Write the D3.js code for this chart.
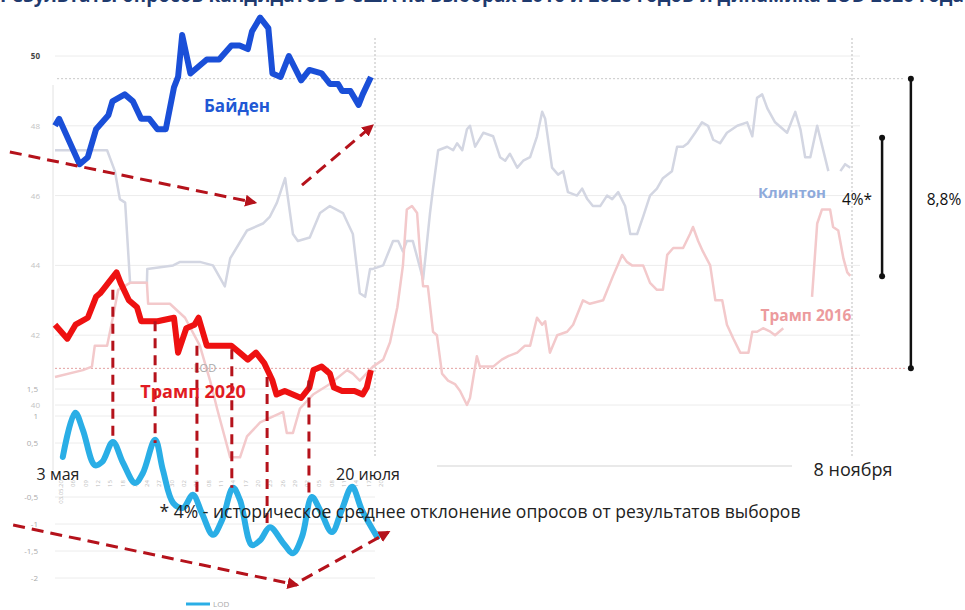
<!DOCTYPE html>
<html>
<head>
<meta charset="utf-8">
<script src="https://cdn.jsdelivr.net/npm/d3@7"></script>
<style>
  body { margin: 0; background: #fff; }
  svg { display: block; font-family: "Open Sans", "Noto Sans", sans-serif; }
</style>
</head>
<body>
<svg id="chart"></svg>
<script>
/*
Опросы США 2016 / 2020 и динамика LOD
дни считаются от 3 мая
*/
var width = 965, height = 610;

// Байден 2020
const bidenDays = [0,1,6,8,10,13,14,17,19,21,23,25,27,29,30,31,33,35,37,40,43,45,47,48,50,52,53,55,57,60,62,65,67,69,70,72,74,75,77];
const bidenVals = [48.0,48.2,46.9,47.1,47.9,48.3,48.7,48.9,48.7,48.2,48.2,47.9,47.9,49.1,49.4,50.6,49.5,49.7,49.9,49.9,50.3,50.3,50.2,50.7,51.1,50.8,49.5,49.4,50.0,49.3,49.6,49.5,49.2,49.2,49.0,49.0,48.6,48.9,49.4];

// Трамп 2020
const trump20Days = [0,3,5,8,10,11,13,15,16,18,20,21,25,29,30,32,34,35,37,43,45,47,49,51,53,54,56,58,60,62,63,65,67,68,70,73,75,76,77];
const trump20Vals = [42.3,41.9,42.3,42.5,43.1,43.2,43.5,43.8,43.5,43.0,42.8,42.4,42.4,42.5,41.5,42.2,42.3,42.5,41.7,41.7,41.5,41.3,41.5,41.2,40.7,40.3,40.4,40.3,40.2,40.5,41.0,41.1,40.9,40.5,40.4,40.4,40.3,40.5,41.0];

// Клинтон 2016 (null = разрыв)
const clintonDays = [0,12.7,14.6,15.8,17.1,18.3,22.4,22.5,28.8,30.5,35.3,38.5,41.4,42.7,46.8,50.7,52.4,54.1,56.1,58,59.2,62.1,64.6,67,70.2,72.6,74.3,75.6,76.8,77.5,79.9,82.2,83.4,84.5,85.4,86.8,89.2,90.8,91.5,92.7,94.8,96.2,97.1,98.3,99.4,100.1,101.3,103.2,105.5,107.1,108.3,109.4,111.1,112.5,114.1,115.7,116.9,117.6,119.2,120.6,121.8,122.9,125,126.2,127.4,128.7,130.4,132,133.2,134.6,136.2,137.4,139,140.4,142,143.6,145,147.1,148.3,149.7,150.8,152.5,154.1,155.5,156.7,158.3,159.9,162.3,164.6,165.8,166.9,168.1,169.3,171.1,173.9,175.8,177,178.1,179.3,180.9,183.5,185,186.3,187.4,188.6];
const clintonVals = [47.3,47.3,46.7,45.9,45.8,43.5,43.5,43.9,44.0,44.1,44.1,44.0,43.4,44.2,45.0,45.2,45.4,45.8,46.5,44.9,44.7,44.8,45.5,45.7,45.5,44.9,43.2,43.1,43.9,43.9,44.0,44.7,44.7,44.4,44.7,44.7,43.6,45.5,46.2,47.3,47.4,47.3,47.5,47.3,47.9,48.0,47.4,47.8,47.7,47.1,47.0,47.2,46.8,47.0,47.1,47.7,48.4,48.2,46.8,46.6,46.7,46.1,46.0,46.2,45.9,45.7,45.7,46.0,45.9,46.1,45.7,44.9,44.9,45.4,46.0,46.2,46.5,46.7,47.4,47.4,47.5,47.8,48.1,48.0,47.6,47.5,47.8,48.0,48.1,47.7,48.8,48.9,48.5,48.1,47.8,48.4,47.9,47.1,47.1,48.0,46.7,null,46.7,46.9,46.8];

// Трамп 2016 (null = разрыв)
const trump16Days = [0,6.8,9,9.7,12.7,14.1,15.4,18.3,22.4,22.7,28,31.7,35.3,37.8,39.5,42.7,45.1,46.8,50,55.6,56.5,58,59.7,62.9,67,71.2,72.6,74.3,77.5,79.9,81.5,83.2,84.5,85.4,86.6,87.8,88.5,89.2,90.3,91.5,92.4,93.6,95,96.6,97.8,99.4,100.1,101.7,102.4,103.6,105.5,107.5,109,111.1,112.9,114.1,115.7,116.9,117.6,118.7,120.4,122.7,124.1,126.4,128,131.1,133.4,135.5,136.6,137.8,140.4,142,143.6,145,146,147.4,149.7,151.3,152,153.2,154.3,156,157.2,158.8,159.9,161.4,163,164.9,165.8,166.9,168.3,170,171.1,173,174,179.7,180.9,182,183.9,184.6,185.8,187,187.9,188.6];
const trump16Vals = [40.8,41.0,41.1,41.7,41.7,42.5,43.3,43.5,43.5,42.9,42.9,42.5,41.7,40.7,39.9,38.5,38.5,39.1,39.5,39.8,39.2,39.2,39.9,40.3,40.6,41.0,40.9,40.7,41.1,41.3,41.8,42.8,44.0,45.6,45.7,45.5,44.3,43.4,43.4,42.1,42.0,40.9,40.7,40.6,40.4,40.0,40.2,41.4,41.1,41.1,41.1,41.3,41.4,41.5,41.7,41.7,42.5,42.3,42.4,41.5,42.0,42.1,42.3,43.0,42.9,43.0,43.7,44.3,44.1,44.0,44.0,43.5,43.3,43.3,44.3,44.5,44.5,44.9,45.1,44.7,44.4,44.0,43.0,43.0,42.3,41.9,41.5,41.5,42.1,42.1,42.2,42.1,42.0,42.2,null,43.1,45.2,45.6,45.6,45.1,45.0,44.2,43.8,43.7];

// LOD
const lodDays = [1.9,4.9,6.8,9.7,11.5,14.1,16.6,19.5,21.4,24.4,26.3,28.8,31.2,33.6,35.8,38.5,40.7,43.4,45.1,48,50,52.4,55.6,58,60.2,62.6,64.6,67.5,69.9,72.4,74.8,78.5];
const lodVals = [0.24,1.06,0.74,0.09,0.15,0.52,0.13,-0.24,-0.06,0.56,0,-0.61,-0.7,-0.46,-0.8,-1.2,-0.93,-0.33,-0.56,-1.39,-1.3,-1.06,-1.35,-1.54,-1.24,-0.5,-0.74,-1.15,-0.74,-0.31,-0.74,-1.24];

// связи Трамп 2020 -> LOD
const linkDays = [14.1,24.4,34.6,43.1,51.7,61.9];
const linkTop = [43.3,42.4,41.7,41.6,40.8,40.7];
const linkBottom = [0.56,0.5,-0.5,-0.33,-1.11,-0.5];

const pollTicks = [50,48,46,44,42,40];
const lodTicks = [1.5,1,0.5,-0.5,-1,-1.5,-2];
const lodTickLabels = ["1,5","1","0,5","-0,5","-1","-1,5","-2"];
const lodDateDays = [0,3,6,9,12,15,18,21,24,27,30,33,36,39,42,45,48,51,54,57,60,63,66,69,72,75,78];
const lodDateLabels = ["03.05.20","06","09","12","15","18","21","24","27","30","02","05","08","11","14","17","20","23","26","29","02","05","08","11","14","17","20"];

const svg = d3.select("#chart").attr("width", width).attr("height", height);

const x = d3.scaleLinear().domain([0, 78, 189]).range([55, 375, 852]);
const y = d3.scaleLinear().domain([40, 50]).range([405, 56]);
const yL = d3.scaleLinear().domain([-2, 1.5]).range([578, 389]);

// заголовок (обрезан сверху, как на слайде)
svg.append("text")
  .attr("x", 482).attr("y", 2)
  .attr("text-anchor", "middle")
  .attr("font-size", 19).attr("font-weight", "bold").attr("fill", "#1f3a6e")
  .text("Результаты опросов кандидатов в США на выборах 2016 и 2020 годов и динамика LOD 2020 года");

// сетка опросов
svg.selectAll(".grid").data(pollTicks).enter().append("line")
  .attr("x1", 55).attr("x2", 860)
  .attr("y1", d => y(d)).attr("y2", d => y(d))
  .attr("stroke", "#ececec").attr("stroke-width", 1);

svg.selectAll(".ptick").data(pollTicks).enter().append("text")
  .attr("x", 40).attr("y", d => y(d) + 3)
  .attr("text-anchor", "end").attr("font-size", 8)
  .attr("font-weight", d => d == 50 ? "bold" : "normal")
  .attr("fill", d => d == 50 ? "#444" : "#c4c4c4")
  .text(d => d);

// сетка LOD
svg.selectAll(".lgrid").data(lodTicks).enter().append("line")
  .attr("x1", 55).attr("x2", 375)
  .attr("y1", d => yL(d)).attr("y2", d => yL(d))
  .attr("stroke", "#ececec");

svg.selectAll(".ltick").data(lodTicks).enter().append("text")
  .attr("x", 38).attr("y", d => yL(d) + 3)
  .attr("text-anchor", "end").attr("font-size", 8).attr("fill", "#aaa")
  .text((d, i) => lodTickLabels[i]);

// оси
svg.append("line").attr("x1", 53).attr("x2", 53).attr("y1", 85).attr("y2", 470)
  .attr("stroke", "#e2e2e2");
svg.append("line").attr("x1", 437).attr("x2", 792).attr("y1", 466).attr("y2", 466)
  .attr("stroke", "#e2e2e2").attr("stroke-width", 1.5);

[78, 189].forEach(d => {
  svg.append("line").attr("x1", x(d)).attr("x2", x(d)).attr("y1", 38).attr("y2", 458)
    .attr("stroke", "#bdbdbd").attr("stroke-dasharray", "2,2");
});

// пунктирные уровни
const levelTop = 49.35, levelBottom = 41.05;
svg.append("line").attr("x1", x(0.5)).attr("x2", 905).attr("y1", y(levelTop)).attr("y2", y(levelTop))
  .attr("stroke", "#c8c8c8").attr("stroke-dasharray", "2,2");
svg.append("line").attr("x1", x(0)).attr("x2", 905).attr("y1", y(levelBottom)).attr("y2", y(levelBottom))
  .attr("stroke", "#e3a0a0").attr("stroke-dasharray", "2,2");

// подписи дат LOD
svg.selectAll(".ldate").data(lodDateDays).enter().append("text")
  .attr("transform", d => `translate(${x(d) + 8},${480}) rotate(-90)`)
  .attr("text-anchor", "end").attr("font-size", 6).attr("fill", "#bbb")
  .text((d, i) => lodDateLabels[i]);

const line = (days, vals, ys, curve) => d3.line()
  .defined((d, i) => vals[i] != null)
  .x((d, i) => x(days[i]))
  .y((d, i) => ys(vals[i]))
  .curve(curve || d3.curveLinear)(days);

// 2016
svg.append("path").attr("d", line(clintonDays, clintonVals, y))
  .attr("fill", "none").attr("stroke", "#d3d6e2").attr("stroke-width", 2.5).attr("stroke-linejoin", "round");
svg.append("path").attr("d", line(trump16Days, trump16Vals, y))
  .attr("fill", "none").attr("stroke", "#f3c9cb").attr("stroke-width", 2.5).attr("stroke-linejoin", "round");

// 2020
svg.append("path").attr("d", line(bidenDays, bidenVals, y))
  .attr("fill", "none").attr("stroke", "#1a4fd8").attr("stroke-width", 6).attr("stroke-linejoin", "round");
svg.append("path").attr("d", line(trump20Days, trump20Vals, y))
  .attr("fill", "none").attr("stroke", "#ee1111").attr("stroke-width", 6).attr("stroke-linejoin", "round");

// LOD
svg.append("path").attr("d", line(lodDays, lodVals, yL, d3.curveCatmullRom))
  .attr("fill", "none").attr("stroke", "#2aaee6").attr("stroke-width", 6).attr("stroke-linecap", "round");

svg.append("text").attr("x", 205).attr("y", 372).attr("text-anchor", "middle")
  .attr("font-size", 11).attr("fill", "#aaa").text("LOD");

// связи
svg.selectAll(".link").data(linkDays).enter().append("line")
  .attr("x1", d => x(d)).attr("x2", d => x(d))
  .attr("y1", (d, i) => y(linkTop[i])).attr("y2", (d, i) => yL(linkBottom[i]))
  .attr("stroke", "#b5121b").attr("stroke-width", 3).attr("stroke-dasharray", "10,7");

// стрелки трендов
svg.append("defs").append("marker")
  .attr("id", "arr").attr("viewBox", "0 0 10 10").attr("refX", 8).attr("refY", 5)
  .attr("markerWidth", 4).attr("markerHeight", 4).attr("orient", "auto")
  .append("path").attr("d", "M0,0L10,5L0,10z").attr("fill", "#b5121b");

const arrows = [
  [x(-11), y(47.25), x(48.7), y(45.8)],
  [x(60.2), y(46.3), x(77.3), y(48.0)],
  [x(-10.2), yL(-1.02), x(59), yL(-2.13)],
  [x(60.2), yL(-2.04), x(81.1), yL(-1.15)]
];
svg.selectAll(".arrow").data(arrows).enter().append("line")
  .attr("x1", d => d[0]).attr("y1", d => d[1]).attr("x2", d => d[2]).attr("y2", d => d[3])
  .attr("stroke", "#b5121b").attr("stroke-width", 3).attr("stroke-dasharray", "12,7")
  .attr("marker-end", "url(#arr)");

// скобки 4% и 8,8%
const brackets = [[196, 47.66, 43.69], [202.7, levelTop, levelBottom]];
brackets.forEach(b => {
  const bx = x(b[0]);
  svg.append("line").attr("x1", bx).attr("x2", bx).attr("y1", y(b[1])).attr("y2", y(b[2]))
    .attr("stroke", "#111").attr("stroke-width", 2.5);
  [b[1], b[2]].forEach(v => svg.append("circle").attr("cx", bx).attr("cy", y(v)).attr("r", 3).attr("fill", "#111"));
});

// подписи
const label = (t, px, py, size, color, weight, anchor) => svg.append("text")
  .attr("x", px).attr("y", py).attr("font-size", size).attr("fill", color)
  .attr("font-weight", weight || "normal").attr("text-anchor", anchor || "start").text(t);

label("Байден", 237, 112, 17, "#2158d4", "bold", "middle");
label("Трамп 2020", 193, 398, 18, "#e11b22", "bold", "middle");
label("Клинтон", 792, 198, 15, "#8eaadb", "bold", "middle");
label("Трамп 2016", 806, 321, 15.5, "#ec9b9d", "bold", "middle");
label("4%*", 857, 205, 15.5, "#111", "normal", "middle");
label("8,8%", 944, 205, 15.5, "#111", "normal", "middle");
label("3 мая", 58, 480, 16, "#222", "normal", "middle");
label("20 июля", 368, 480, 16, "#222", "normal", "middle");
label("8 ноября", 853, 476, 18, "#222", "normal", "middle");
label("* 4% - историческое среднее отклонение опросов от результатов выборов", 480, 518, 17.5, "#222", "normal", "middle");

// легенда LOD
svg.append("line").attr("x1", 186).attr("x2", 210).attr("y1", 604).attr("y2", 604)
  .attr("stroke", "#2aaee6").attr("stroke-width", 3);
label("LOD", 213, 607, 8, "#aaa");
</script>
</body>
</html>
